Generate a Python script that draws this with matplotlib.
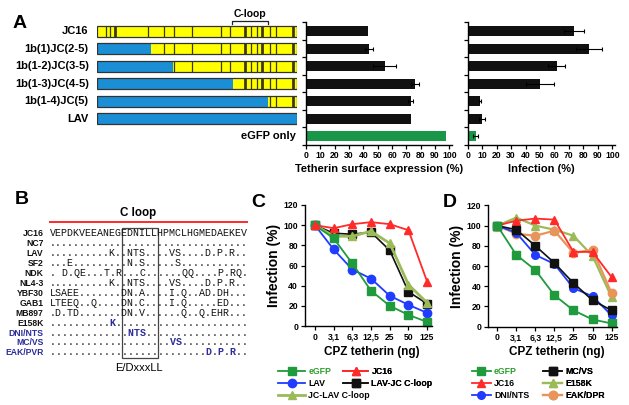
import numpy as np
import matplotlib.pyplot as plt

plt.rcParams['font.family'] = ['Liberation Sans', 'DejaVu Sans']
plt.rcParams['font.weight'] = 'bold'
plt.rcParams['axes.linewidth'] = 1.0

W, H = 629, 405

# ---- panel A data ----
constructs = ['JC16', '1b(1)JC(2-5)', '1b(1-2)JC(3-5)', '1b(1-3)JC(4-5)',
              '1b(1-4)JC(5)', 'LAV', 'eGFP only']
blue_end = [0, 27, 38, 68, 85.5, 100]
stripes_thin = [4.5, 6.5, 25.6, 33.5, 38.7, 47.6, 62, 66.6, 77, 80, 86.5, 89.4]
stripes_thick = [9, 74, 82.7, 98.2]
surface = [43, 44, 55, 76, 73, 73, 98]
surface_err = [0, 3, 8, 3, 1.5, 0, 0]
infection = [73.5, 84, 61.5, 50, 8.5, 9.7, 5.5]
infection_err = [7, 9, 6, 10, 0.8, 2, 1.5]

# ---- panel B data ----
seq_names = ['JC16', 'NC7', 'LAV', 'SF2', 'NDK', 'NL4-3', 'YBF30', 'GAB1',
             'MB897', 'E158K', 'DNI/NTS', 'MC/VS', 'EAK/PVR']
seqs = [
    'VEPDKVEEANEGEDNILLHPMCLHGMEDAEKEV',
    '.................................',
    '..........K..NTS....VS....D.P.R..',
    '...E.........N.S.....S...........',
    '. D.QE...T.R...C......QQ....P.RQ.',
    '..........K..NTS....VS....D.P.R..',
    'LSAEE.......DN.A....I.Q..AD.DH...',
    'LTEEQ..Q....DN.C....I.Q.....ED...',
    '.D.TD.......DN.V......Q..Q.EHR...',
    '..........K......................',
    '.............NTS.................',
    '....................VS...........',
    '..........................D.P.R..',
]
mutant_rows = [9, 10, 11, 12]
blue_names = [10, 11, 12]

# ---- panels C/D data ----
cpz_labels = ['0', '3,1', '6,3', '12,5', '25', '50', '125']
c_egfp = [100, 87, 62, 35, 20, 11, 4]
c_jc16 = [100, 97, 101, 103, 101, 95, 44]
c_lav = [100, 76, 56, 47, 30, 21, 13]
c_lav_jc = [100, 92, 91, 93, 75, 34, 22]
c_jc_lav = [100, 89, 89, 94, 82, 41, 23]

d_egfp = [100, 71, 56, 31, 16, 7, 3]
d_jc16 = [100, 105, 107, 106, 74, 74, 49]
d_dni = [100, 93, 71, 62, 38, 30, 11]
d_mcvs = [100, 96, 80, 63, 43, 26, 16]
d_e158k = [100, 108, 100, 96, 90, 70, 29]
d_eak = [100, 92, 90, 95, 73, 76, 33]

GREEN = '#1f9a3c'
RED = '#ff2a2a'
BLUE = '#1f3cff'
OLIVE = '#9bbb59'
ORANGE = '#e9945a'
BLK = '#111111'
MUT = '#2b2b9b'

fig = plt.figure(figsize=(W / 100, H / 100), dpi=100)


def px_axes(left, top, width, height):
    return fig.add_axes([left / W, 1 - (top + height) / H, width / W, height / H])


ov = px_axes(0, 0, W, H)
ov.set_xlim(0, W)
ov.set_ylim(H, 0)
ov.axis('off')

for lab, x, y in [('A', 13, 28), ('B', 15, 204), ('C', 251, 207), ('D', 443, 207)]:
    ov.text(x, y, lab, fontsize=14, fontweight='bold', ha='left', va='baseline')

# ---- A: schematic ----
rows = np.arange(len(constructs))
sch = px_axes(96.7, 22.3, 200, 122.7)
sch.set_xlim(0, 100)
sch.set_ylim(6.5, -0.5)
sch.axis('off')
bh = 0.63
n = len(blue_end)
sch.barh(rows[:n], blue_end, height=bh, color='#1b8fd6', lw=0)
sch.barh(rows[:n], [100 - b for b in blue_end], left=blue_end, height=bh,
         color='#ffff00', lw=0)
for i in range(n):
    thin = [s for s in stripes_thin if s > blue_end[i]]
    thick = [s for s in stripes_thick if s > blue_end[i]]
    sch.vlines(thin, i - bh / 2, i + bh / 2, color='#3a3a1a', lw=0.9)
    sch.vlines(thick, i - bh / 2, i + bh / 2, color='#3a3a1a', lw=2.0)
sch.barh(rows[:n], 100, height=bh, fill=False, edgecolor='#333333', lw=0.9)
for i, name in enumerate(constructs[:n]):
    sch.text(-4, i, name, ha='right', va='center', fontsize=8, fontweight='bold',
             clip_on=False)
sch.text(99.5, 6, constructs[6], ha='right', va='center', fontsize=8,
         fontweight='bold', clip_on=False)
# C-loop bracket
sch.plot([67.5, 67.5, 85.5, 85.5], [-0.42, -0.6, -0.6, -0.42], color='#222222',
         lw=0.9, clip_on=False)
sch.text(76.5, -0.68, 'C-loop', ha='center', va='bottom', fontsize=7.5,
         fontweight='bold', clip_on=False)


def bar_panel(ax, vals, errs, xlabel):
    cols = [BLK] * 6 + ['#1a9648']
    ax.barh(rows, vals, height=0.57, color=cols, lw=0)
    e = np.array(errs)
    m = e > 0
    ax.errorbar(np.array(vals)[m], rows[m], xerr=e[m], fmt='none', ecolor='k',
                elinewidth=0.8, capsize=1.5, capthick=0.8)
    ax.set_xlim(0, 102)
    ax.set_ylim(6.5, -0.5)
    ax.set_xticks(np.arange(0, 101, 10))
    ax.set_yticks(np.arange(-0.5, 7, 1))
    ax.set_yticklabels([])
    ax.tick_params(axis='both', direction='out', length=3, width=0.9,
                   labelsize=6.2, pad=1.5)
    for lbl in ax.get_xticklabels():
        lbl.set_fontweight('bold')
    ax.spines['top'].set_visible(False)
    ax.spines['right'].set_visible(False)
    ax.set_xlabel(xlabel, fontsize=8, fontweight='bold', labelpad=3)


b1 = px_axes(306, 22.3, 146.2, 122.7)
bar_panel(b1, surface, surface_err, 'Tetherin surface expression (%)')
b2 = px_axes(467.7, 22.3, 147.5, 122.7)
bar_panel(b2, infection, infection_err, 'Infection (%)')

# ---- B: alignment ----
ov.text(138, 216, 'C loop', ha='center', va='baseline', fontsize=8.4,
        fontweight='bold')
ov.plot([50, 247], [222, 222], color='#ff2a2a', lw=1.4)
ov.add_patch(plt.Rectangle((121.7, 227.7), 36, 130, fill=False,
                           edgecolor='#444444', lw=0.9))
for i, (name, s) in enumerate(zip(seq_names, seqs)):
    yb = 233.3 + i * 9.9 + 3.2
    ov.text(43.3, yb, name, ha='right', va='baseline', fontsize=6.2,
            fontweight='bold', color=MUT if i in blue_names else BLK)
    if i in mutant_rows:
        dots = ''.join(c if c == '.' else ' ' for c in s)
        lets = ''.join(' ' if c == '.' else c for c in s)
        ov.text(50, yb, dots, ha='left', va='baseline', fontsize=7.2,
                family='Liberation Mono', fontweight='normal', color=BLK)
        ov.text(50, yb, lets, ha='left', va='baseline', fontsize=7.2,
                family='Liberation Mono', fontweight='bold', color=MUT)
    else:
        ov.text(50, yb, s, ha='left', va='baseline', fontsize=7.2,
                family='Liberation Mono', fontweight='normal', color=BLK)
ov.text(139, 371, 'E/DxxxLL', ha='center', va='baseline', fontsize=8,
        fontweight='normal')


# ---- C / D ----
def curve_axes(ax, xlim):
    ax.set_xlim(*xlim)
    ax.set_ylim(0, 120)
    ax.set_yticks(np.arange(0, 121, 20))
    ax.set_xticks(range(len(cpz_labels)))
    ax.set_xticklabels(cpz_labels)
    ax.tick_params(axis='both', direction='out', length=3, width=0.9,
                   labelsize=6.2, pad=2)
    for lbl in ax.get_xticklabels() + ax.get_yticklabels():
        lbl.set_fontweight('bold')
    ax.spines['top'].set_visible(False)
    ax.spines['right'].set_visible(False)
    ax.set_ylabel('Infection (%)', fontsize=10, fontweight='bold')
    ax.yaxis.set_label_coords(-0.19, 0.5)
    ax.set_xlabel('CPZ tetherin (ng)', fontsize=8.5, fontweight='bold')
    ax.xaxis.set_label_coords(0.53, -0.165)


xs = np.arange(len(cpz_labels))
axc = px_axes(305, 205, 127, 121)
curve_axes(axc, (-0.53, 6.26))
lc_lavjc, = axc.plot(xs, c_lav_jc, '-s', color=BLK, ms=5.5, lw=1.2, label='LAV-JC C-loop')
lc_jclav, = axc.plot(xs, c_jc_lav, '-^', color=OLIVE, ms=6, lw=2.0, label='JC-LAV C-loop')
lc_lav, = axc.plot(xs, c_lav, '-o', color=BLUE, ms=6, lw=1.3, label='LAV')
lc_egfp, = axc.plot(xs, c_egfp, '-s', color=GREEN, ms=5.5, lw=1.3, label='eGFP')
lc_jc16, = axc.plot(xs, c_jc16, '-^', color=RED, ms=5.5, lw=1.3, label='JC16')
for l in axc.lines:
    l.set_clip_on(False)

axd = px_axes(488.3, 205.5, 129, 121)
curve_axes(axd, (-0.47, 6.3))
ld_e158k, = axd.plot(xs, d_e158k, '-^', color=OLIVE, ms=6, lw=1.6, label='E158K')
ld_eak, = axd.plot(xs, d_eak, '-o', color=ORANGE, ms=6, lw=1.6, label='EAK/DPR')
ld_jc16, = axd.plot(xs, d_jc16, '-^', color=RED, ms=5.5, lw=1.3, label='JC16')
ld_dni, = axd.plot(xs, d_dni, '-o', color=BLUE, ms=5.5, lw=1.3, label='DNI/NTS')
ld_mcvs, = axd.plot(xs, d_mcvs, '-s', color=BLK, ms=5.5, lw=1.2, label='MC/VS')
ld_egfp, = axd.plot(xs, d_egfp, '-s', color=GREEN, ms=5.5, lw=1.3, label='eGFP')
for l in axd.lines:
    l.set_clip_on(False)


def put_legend(ax, handles, x, y, hl):
    leg = ax.legend(handles=handles, loc='upper left',
                    bbox_to_anchor=(x / W, 1 - y / H), bbox_transform=fig.transFigure,
                    frameon=False, handlelength=hl, handletextpad=0.35,
                    borderpad=0, borderaxespad=0, labelspacing=0.35, numpoints=1,
                    prop={'weight': 'bold', 'size': 6.3})
    for t, h in zip(leg.get_texts(), handles):
        if h.get_label() == 'eGFP':
            t.set_color('#2aa02a')
    ax.add_artist(leg)
    return leg


put_legend(axc, [lc_egfp, lc_lav, lc_jclav], 278, 367, 3.1)
put_legend(axc, [lc_jc16, lc_lavjc], 343, 367, 2.9)
put_legend(axd, [ld_egfp, ld_jc16, ld_dni], 471.7, 367, 2.2)
put_legend(axd, [ld_mcvs, ld_e158k, ld_eak], 543, 367, 2.2)

fig.savefig('out.png', dpi=100)
